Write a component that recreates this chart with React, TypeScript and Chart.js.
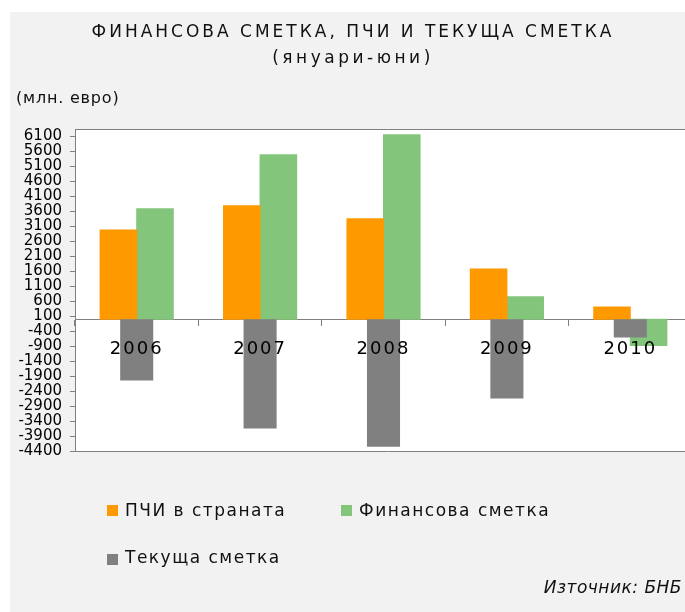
import React, { useEffect, useRef } from "react";
import { Chart, registerables } from "chart.js";

Chart.register(...registerables);

// ---- data ----
const YEARS = ["2006", "2007", "2008", "2009", "2010"];
const FDI = [2980, 3790, 3350, 1680, 410]; // ПЧИ в страната
const FINANCIAL = [3690, 5490, 6160, 750, -880]; // Финансова сметка
const CURRENT = [-2050, -3650, -4260, -2650, -610]; // Текуща сметка
const SERIES_NAMES = ["ПЧИ в страната", "Финансова сметка", "Текуща сметка"];
const Y_TICKS = [
  6100, 5600, 5100, 4600, 4100, 3600, 3100, 2600, 2100, 1600, 1100, 600, 100,
  -400, -900, -1400, -1900, -2400, -2900, -3400, -3900, -4400,
];
const Y_MIN = -4400;
const Y_MAX = 6350;
const TITLE = "ФИНАНСОВА СМЕТКА, ПЧИ И ТЕКУЩА СМЕТКА";
const SUBTITLE = "(януари-юни)";
const UNIT = "(млн. евро)";
const SOURCE = "Източник: БНБ";

const COLORS = ["#FF9900", "#83C67B", "#808080"];
const AXIS_GRAY = "#808080";
const FONT = '"DejaVu Sans", Verdana, sans-serif';

const backgroundPlugin = {
  id: "bgPanel",
  beforeDraw(chart: any) {
    const ctx = chart.ctx;
    const w = chart.width;
    const h = chart.height;
    (ctx as any).letterSpacing = "0px";
    ctx.save();
    ctx.fillStyle = "#ffffff";
    ctx.fillRect(0, 0, w, h);
    ctx.fillStyle = "#f2f2f2";
    ctx.fillRect(10, 12, w - 10, h - 12);
    const { left, top, bottom } = chart.chartArea;
    ctx.fillStyle = "#ffffff";
    ctx.fillRect(left, top, w - left, bottom - top);
    ctx.strokeStyle = AXIS_GRAY;
    ctx.lineWidth = 1;
    ctx.beginPath();
    ctx.moveTo(left, Math.floor(top) + 0.5);
    ctx.lineTo(w, Math.floor(top) + 0.5);
    ctx.moveTo(left, Math.floor(bottom) + 0.5);
    ctx.lineTo(w, Math.floor(bottom) + 0.5);
    ctx.stroke();
    ctx.restore();
  },
  afterDatasetsDraw(chart: any) {
    // x labels (drawn after the bars) use spaced digits
    (chart.ctx as any).letterSpacing = "2px";
  },
};

const textPlugin = {
  id: "texts",
  afterDraw(chart: any) {
    const ctx = chart.ctx as any;
    ctx.save();
    ctx.fillStyle = "#111";
    ctx.textBaseline = "alphabetic";

    // title
    ctx.font = `17px ${FONT}`;
    ctx.letterSpacing = "3px";
    ctx.textAlign = "center";
    ctx.fillText(TITLE, 353, 37);
    ctx.letterSpacing = "3.5px";
    ctx.fillText(SUBTITLE, 353, 63);

    // unit
    ctx.textAlign = "left";
    ctx.font = `16px ${FONT}`;
    ctx.letterSpacing = "0.8px";
    ctx.fillText(UNIT, 16, 103);

    // legend
    const ds = chart.data.datasets;
    const items = [
      { i: 0, bx: 107, by: 505, tx: 125, ty: 516 },
      { i: 1, bx: 341, by: 505, tx: 359, ty: 516 },
      { i: 2, bx: 107, by: 554, tx: 125, ty: 563 },
    ];
    ctx.font = `17px ${FONT}`;
    ctx.letterSpacing = "1.5px";
    items.forEach((it) => {
      ctx.fillStyle = ds[it.i].backgroundColor;
      ctx.fillRect(it.bx, it.by, 11, 11);
      ctx.fillStyle = "#111";
      ctx.fillText(ds[it.i].label, it.tx, it.ty);
    });

    // source
    ctx.font = `italic 17px ${FONT}`;
    ctx.letterSpacing = "0.5px";
    ctx.textAlign = "right";
    ctx.fillText(SOURCE, 682, 593);
    ctx.restore();
    ctx.letterSpacing = "0px";
  },
};

export default function App() {
  const ref = useRef<HTMLCanvasElement | null>(null);

  useEffect(() => {
    if (!ref.current) return;
    const chart = new Chart(ref.current, {
      type: "bar",
      data: {
        labels: YEARS,
        datasets: [
          {
            label: SERIES_NAMES[0],
            data: FDI,
            backgroundColor: COLORS[0],
            categoryPercentage: 0.593,
            barPercentage: 1,
            inflateAmount: 0.5,
            order: 2,
          } as any,
          {
            label: SERIES_NAMES[1],
            data: FINANCIAL,
            backgroundColor: COLORS[1],
            categoryPercentage: 0.593,
            barPercentage: 1,
            inflateAmount: 0.5,
            order: 2,
          } as any,
          {
            label: SERIES_NAMES[2],
            data: CURRENT,
            backgroundColor: COLORS[2],
            grouped: false,
            categoryPercentage: 0.268,
            barPercentage: 1,
            order: 1,
          } as any,
        ],
      },
      options: {
        responsive: false,
        animation: false,
        devicePixelRatio: 1,
        layout: { padding: { top: 129, bottom: 161, left: 0, right: 8 } },
        plugins: {
          legend: { display: false },
          title: { display: false },
          tooltip: { enabled: false },
        },
        scales: {
          x: {
            type: "category",
            position: { y: 0 } as any,
            offset: true,
            grid: {
              drawOnChartArea: false,
              drawTicks: true,
              tickLength: 6,
              color: AXIS_GRAY,
              offset: true,
            },
            border: { display: true, color: AXIS_GRAY, width: 1 },
            ticks: {
              font: { family: FONT, size: 18 },
              color: "#000",
              padding: 13,
              z: 1,
              maxRotation: 0,
              autoSkip: false,
            },
          },
          y: {
            type: "linear",
            position: "left",
            min: Y_MIN,
            max: Y_MAX,
            afterBuildTicks: (scale: any) => {
              scale.ticks = Y_TICKS.map((v) => ({ value: v }));
            },
            afterFit: (scale: any) => {
              scale.width = 75;
            },
            grid: {
              drawOnChartArea: false,
              drawTicks: true,
              tickLength: 5,
              color: AXIS_GRAY,
            },
            border: { display: true, color: AXIS_GRAY, width: 1 },
            ticks: {
              autoSkip: false,
              font: { family: FONT, size: 15 },
              color: "#000",
              padding: 8,
              callback: (v: any) => String(v),
            },
          },
        },
      },
      plugins: [backgroundPlugin, textPlugin],
    });
    return () => chart.destroy();
  }, []);

  return (
    <div
      style={{
        position: "fixed",
        left: 0,
        top: 0,
        width: 685,
        height: 612,
        overflow: "hidden",
        background: "#fff",
      }}
    >
      <canvas ref={ref} width={700} height={612} style={{ display: "block" }} />
    </div>
  );
}
